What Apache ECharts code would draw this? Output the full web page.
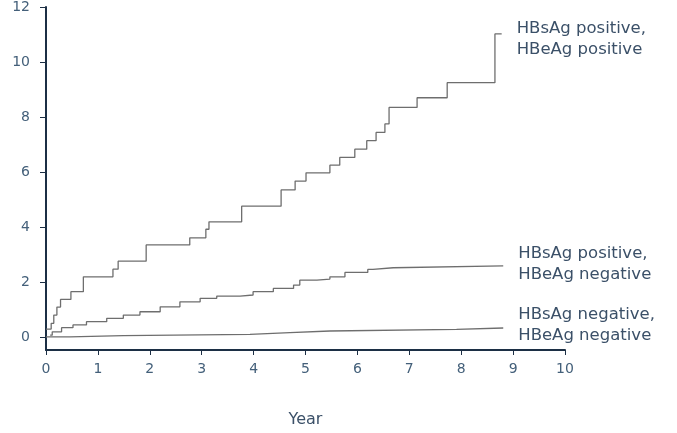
<!DOCTYPE html>
<html>
<head>
<meta charset="utf-8">
<script src="https://cdn.jsdelivr.net/npm/echarts@6/dist/echarts.min.js"></script>
<style>
html,body{margin:0;padding:0;background:#fff;}
#chart{width:677px;height:433px;}
</style>
</head>
<body>
<div id="chart"></div>
<script>
// Series names (shown as end labels)
const seriesNames = [
  'HBsAg positive,\nHBeAg positive',
  'HBsAg positive,\nHBeAg negative',
  'HBsAg negative,\nHBeAg negative'
];
// Step points: [year, cumulative incidence] — value holds from that year on
const posPos = [
  [0.0, 0.29], [0.10, 0.50], [0.15, 0.80], [0.21, 1.09], [0.28, 1.37], [0.48, 1.65],
  [0.72, 2.19], [1.29, 2.47], [1.39, 2.76], [1.93, 3.35], [2.77, 3.61], [3.08, 3.92],
  [3.14, 4.19], [3.77, 4.76], [4.53, 5.35], [4.80, 5.67], [5.01, 5.97], [5.47, 6.25],
  [5.66, 6.53], [5.95, 6.83], [6.18, 7.14], [6.36, 7.44], [6.53, 7.75], [6.61, 8.35],
  [7.15, 8.70], [7.73, 9.25], [8.65, 11.02], [8.78, 11.02]
];
const posNeg = [
  [0.08, 0.07], [0.12, 0.19], [0.30, 0.34], [0.52, 0.44], [0.78, 0.56], [1.17, 0.68],
  [1.49, 0.80], [1.81, 0.92], [2.20, 1.10], [2.58, 1.28], [2.97, 1.41], [3.29, 1.49],
  [3.74, 1.53], [3.99, 1.65], [4.38, 1.77], [4.77, 1.89], [4.89, 2.07], [5.22, 2.11],
  [5.47, 2.19], [5.76, 2.35], [6.20, 2.46], [6.30, 2.52], [6.69, 2.59], [8.81, 2.59]
];
const negNeg = [
  [0.0, 0.01], [0.46, 0.05], [1.49, 0.10], [3.93, 0.16], [4.70, 0.22], [5.47, 0.28],
  [7.91, 0.33], [8.81, 0.33]
];
const yTicks = [0, 2, 4, 6, 8, 10, 12];
const xTitle = 'Year';

const textColor = '#3b5068';
const tickTextColor = '#44607a';
const axisColor = '#1c2f45';
const font = 'DejaVu Sans';
const labelOffsets = [[15, 5], [15, -2], [15, -3]];

const chart = echarts.init(document.getElementById('chart'), null, {renderer: 'canvas'});
const dataSets = [posPos, posNeg, negNeg];
chart.setOption({
  animation: false,
  backgroundColor: '#fff',
  grid: {left: 46, right: 112, top: 7, bottom: 83, containLabel: false, outerBoundsMode: 'none'},
  xAxis: {
    type: 'value', min: 0, max: 10, interval: 1,
    name: xTitle, nameLocation: 'middle', nameGap: 62,
    nameTextStyle: {color: textColor, fontSize: 16, fontFamily: font},
    axisLine: {show: true, onZero: false, lineStyle: {color: axisColor, width: 2}},
    axisTick: {show: true, length: 5, lineStyle: {color: axisColor, width: 1}},
    axisLabel: {color: tickTextColor, fontSize: 14, fontFamily: font, margin: 12},
    splitLine: {show: false}
  },
  yAxis: {
    type: 'value', min: -0.47, max: 12,
    axisLine: {show: true, lineStyle: {color: axisColor, width: 2}},
    axisTick: {show: true, length: 6, customValues: yTicks, lineStyle: {color: axisColor, width: 1}},
    axisLabel: {color: tickTextColor, fontSize: 14, fontFamily: font, margin: 16, customValues: yTicks},
    splitLine: {show: false}
  },
  series: dataSets.map((d, i) => ({
    type: 'line',
    name: seriesNames[i],
    step: 'end',
    data: d,
    showSymbol: false,
    symbol: 'none',
    lineStyle: {color: '#6e6e6e', width: 1.3},
    endLabel: {
      show: true,
      formatter: '{a}',
      color: textColor,
      fontSize: 16.5,
      fontFamily: font,
      lineHeight: 21,
      align: 'left',
      distance: 0,
      offset: labelOffsets[i]
    }
  }))
});
</script>
</body>
</html>
